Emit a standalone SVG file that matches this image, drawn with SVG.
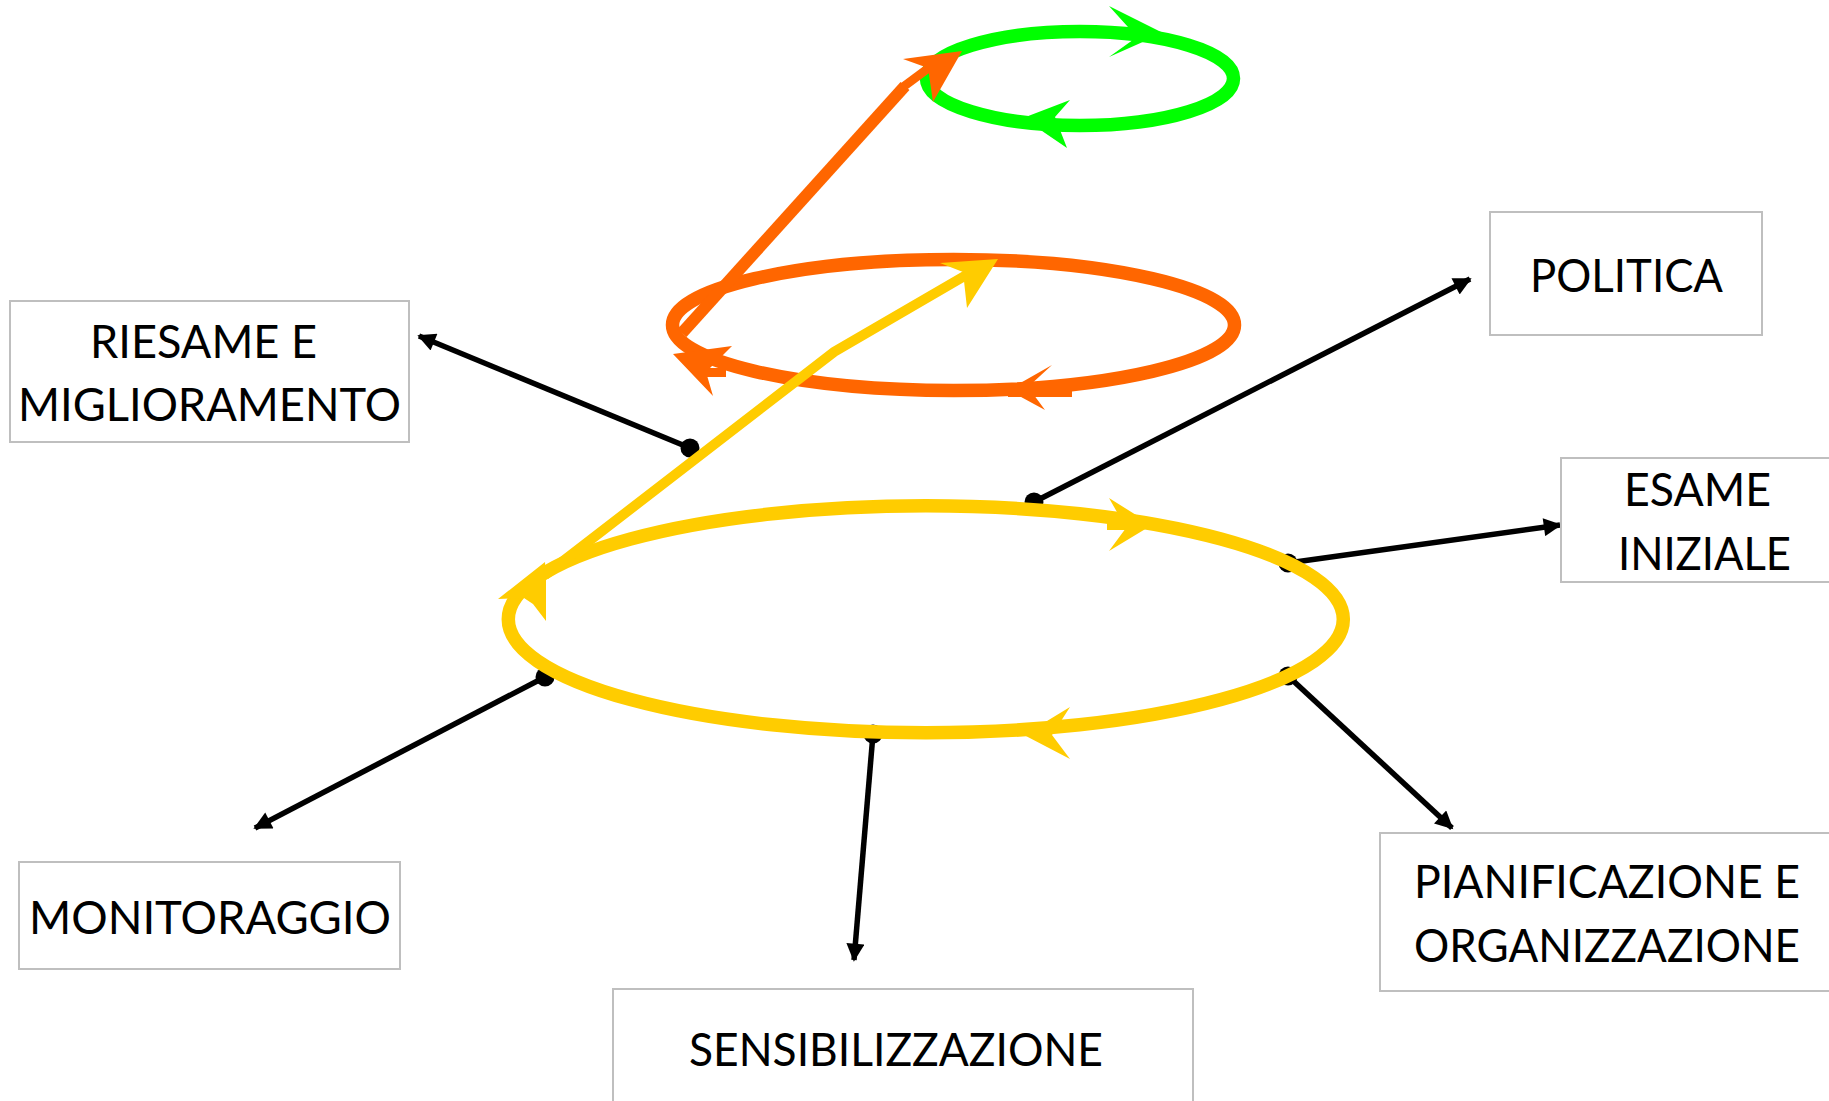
<svg xmlns="http://www.w3.org/2000/svg" width="1829" height="1101" viewBox="0 0 1829 1101">
<style>
.box{fill:#ffffff;stroke:#bfbfbf;stroke-width:2}
.lbl{font-family:Lato,"Open Sans","Liberation Sans",sans-serif;font-size:47px;fill:#000000;text-anchor:middle}
.conn{stroke:#000000;stroke-width:5.5;fill:none;marker-end:url(#ah)}
.dot{fill:#000000}
.ring{fill:none;stroke-width:13.5}
</style>
<defs>
<marker id="ah" viewBox="0 0 10 10" refX="9" refY="5" markerUnits="userSpaceOnUse" markerWidth="21" markerHeight="18" orient="auto">
<path d="M0,0 L10,5 L0,10 z" fill="#000000"/>
</marker>
</defs>
<rect width="1829" height="1101" fill="#ffffff"/>

<g id="connectors">
<line class="conn" x1="690" y1="448" x2="419" y2="336"/>
<circle class="dot" cx="690" cy="448" r="9.5"/>
<line class="conn" x1="1034" y1="502" x2="1470" y2="279"/>
<circle class="dot" cx="1034" cy="502" r="9.5"/>
<line class="conn" x1="1288" y1="563" x2="1560" y2="525"/>
<circle class="dot" cx="1288" cy="563" r="9.5"/>
<line class="conn" x1="1288" y1="676" x2="1452" y2="828"/>
<circle class="dot" cx="1288" cy="676" r="9.5"/>
<line class="conn" x1="873" y1="734" x2="854" y2="960"/>
<circle class="dot" cx="873" cy="734" r="9.5"/>
<line class="conn" x1="545" y1="677" x2="255" y2="828"/>
<circle class="dot" cx="545" cy="677" r="9.5"/>
</g>

<g id="green-cycle">
<ellipse class="ring" cx="1080" cy="78.5" rx="153.5" ry="47" stroke="#00ff00"/>
<polygon points="1109,6 1163,33 1109,57 1137,37" fill="#00ff00"/>
<polygon points="1023,118 1070,100 1055,117 1067,148" fill="#00ff00"/>
</g>

<g id="orange-cycle">
<ellipse class="ring" cx="953.5" cy="325" rx="281" ry="65.5" stroke="#ff6600"/>
<polygon points="1008,390 1052,365 1028,387 1045,410" fill="#ff6600"/>
<rect x="1008" y="388" width="64" height="9" fill="#ff6600"/>
<polygon points="673,354 732,346 706,372 713,396" fill="#ff6600"/>
<rect x="705" y="368" width="21" height="9" fill="#ff6600"/>
<polyline points="682,333 905,86" fill="none" stroke="#ff6600" stroke-width="12"/>
<polyline points="903,87 930,67" fill="none" stroke="#ff6600" stroke-width="9"/>
<polygon points="962,51 903,59 928,68 933,102" fill="#ff6600"/>
</g>

<g id="yellow-cycle">
<ellipse class="ring" cx="925.8" cy="619.3" rx="417.5" ry="113.5" stroke="#ffcc00"/>
<polygon points="1109,498 1152,525 1109,551 1126,528" fill="#ffcc00"/>
<rect x="1107" y="522" width="20" height="8" fill="#ffcc00"/>
<polygon points="1024,735 1070,707 1052,735 1070,759" fill="#ffcc00"/>
<polygon points="545,562 498,599 524,598 533,604 546,621 546,580" fill="#ffcc00"/>
<polyline points="545,575 834,352 968,274" fill="none" stroke="#ffcc00" stroke-width="10"/>
<polygon points="998,259 940,263 963,272 967,308" fill="#ffcc00"/>
</g>

<g id="node-riesame">
<rect class="box" x="10" y="301" width="399" height="141"/>
<text class="lbl" x="203.5" y="358" textLength="227" lengthAdjust="spacingAndGlyphs">RIESAME E</text>
<text class="lbl" x="209.5" y="421" textLength="383" lengthAdjust="spacingAndGlyphs">MIGLIORAMENTO</text>
</g>
<g id="node-politica">
<rect class="box" x="1490" y="212" width="272" height="123"/>
<text class="lbl" x="1626.5" y="292" textLength="193" lengthAdjust="spacingAndGlyphs">POLITICA</text>
</g>
<g id="node-esame">
<rect class="box" x="1561" y="458" width="280" height="124"/>
<text class="lbl" x="1697.5" y="506" textLength="147" lengthAdjust="spacingAndGlyphs">ESAME</text>
<text class="lbl" x="1704.5" y="570" textLength="173" lengthAdjust="spacingAndGlyphs">INIZIALE</text>
</g>
<g id="node-pianificazione">
<rect class="box" x="1380" y="833" width="460" height="158"/>
<text class="lbl" x="1607" y="898" textLength="386" lengthAdjust="spacingAndGlyphs">PIANIFICAZIONE E</text>
<text class="lbl" x="1607" y="962" textLength="386" lengthAdjust="spacingAndGlyphs">ORGANIZZAZIONE</text>
</g>
<g id="node-sensibilizzazione">
<rect class="box" x="613" y="989" width="580" height="130"/>
<text class="lbl" x="896" y="1066" textLength="414" lengthAdjust="spacingAndGlyphs">SENSIBILIZZAZIONE</text>
</g>
<g id="node-monitoraggio">
<rect class="box" x="19" y="862" width="381" height="107"/>
<text class="lbl" x="210" y="934" textLength="362" lengthAdjust="spacingAndGlyphs">MONITORAGGIO</text>
</g>
</svg>
